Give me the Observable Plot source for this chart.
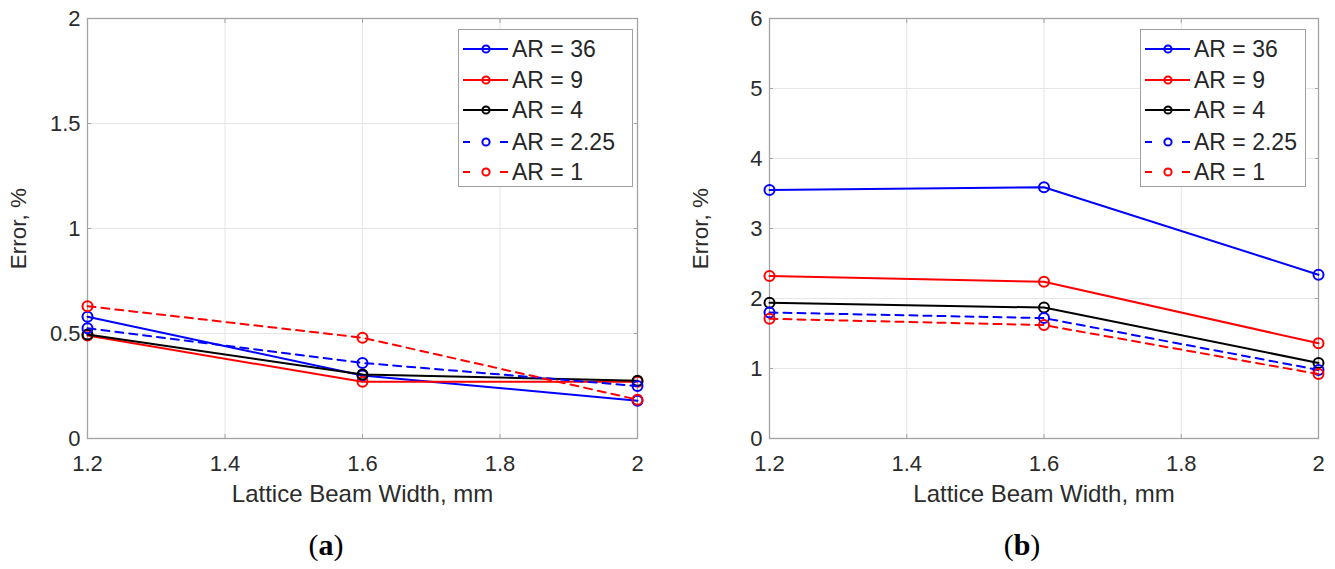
<!DOCTYPE html>
<html>
<head>
<meta charset="utf-8">
<script src="https://cdn.jsdelivr.net/npm/d3@7"></script>
<script src="https://cdn.jsdelivr.net/npm/@observablehq/plot@0.6"></script>
<style>
  body { margin: 0; background: #fff; }
  #root { position: relative; width: 1335px; height: 569px; overflow: hidden; font-family: "Liberation Sans", Arial, sans-serif; }
  .panel { position: absolute; top: 0; }
  .legend { position: absolute; background: #fff; border: 1px solid #a0a0a0; box-sizing: border-box; }
  .legend .row { position: absolute; left: 0; height: 30px; display: flex; align-items: center; }
  .legend .row span { font-size: 23px; color: #262626; margin-left: 1px; white-space: nowrap; }
  .caption { position: absolute; top: 528px; font-family: "Liberation Serif", "DejaVu Serif", serif; font-size: 30px; color: #000; transform: translateX(-50%); }
</style>
</head>
<body>
<div id="root"></div>
<script>
// ---- data ----
const beamWidths = [1.2, 1.6, 2];
const seriesLabels = ["AR = 36", "AR = 9", "AR = 4", "AR = 2.25", "AR = 1"];

// panel (a)
const errorA_AR36  = [0.58, 0.30, 0.18];
const errorA_AR9   = [0.49, 0.27, 0.27];
const errorA_AR4   = [0.495, 0.305, 0.275];
const errorA_AR225 = [0.525, 0.36, 0.25];
const errorA_AR1   = [0.63, 0.48, 0.185];

// panel (b)
const errorB_AR36  = [3.55, 3.59, 2.34];
const errorB_AR9   = [2.32, 2.24, 1.36];
const errorB_AR4   = [1.94, 1.87, 1.08];
const errorB_AR225 = [1.80, 1.72, 0.98];
const errorB_AR1   = [1.71, 1.62, 0.92];

const xTicks = [1.2, 1.4, 1.6, 1.8, 2];
const yTicksA = [0, 0.5, 1, 1.5, 2];
const yTicksB = [0, 1, 2, 3, 4, 5, 6];
const xLabel = "Lattice Beam Width, mm";
const yLabel = "Error, %";
const captions = ["a", "b"];

// ---- styles ----
const seriesColors = ["#0000ff", "#ff0000", "#000000", "#0000ff", "#ff0000"];
const seriesDash = [null, null, null, "8,6", "8,6"];

function toRows(seriesValues) {
  return seriesValues.map((vals, i) =>
    vals.map((v, j) => ({ x: beamWidths[j], y: v, series: seriesLabels[i] })));
}

function makeChart(seriesValues, yDomain, yTicks, width, marginLeft, marginRight) {
  const rows = toRows(seriesValues);
  const marks = [
    Plot.gridX(xTicks, { stroke: "#e6e6e6", strokeOpacity: 1 }),
    Plot.gridY(yTicks, { stroke: "#e6e6e6", strokeOpacity: 1 }),
    Plot.frame({ stroke: "#a3a3a3", strokeWidth: 1.3 }),
    // inward tick marks (box style)
    Plot.axisX(xTicks, { anchor: "bottom", tickSize: -4, tickFormat: () => "", label: null, stroke: "#a3a3a3" }),
    Plot.axisX(xTicks, { anchor: "top", tickSize: -4, tickFormat: () => "", label: null, stroke: "#a3a3a3" }),
    Plot.axisY(yTicks, { anchor: "left", tickSize: -4, tickFormat: () => "", label: null, stroke: "#a3a3a3" }),
    Plot.axisY(yTicks, { anchor: "right", tickSize: -4, tickFormat: () => "", label: null, stroke: "#a3a3a3" }),
    // tick labels
    Plot.axisX(xTicks, {
      anchor: "bottom", tickSize: 0, tickPadding: 17, tickFormat: d => String(d),
      label: null, fontSize: 22, fill: "#2b2b2b"
    }),
    Plot.axisY(yTicks, {
      anchor: "left", tickSize: 0, tickPadding: 7, tickFormat: d => String(d),
      label: null, fontSize: 22, fill: "#2b2b2b"
    }),
    // axis titles
    Plot.axisX([], {
      anchor: "bottom", tickSize: 0, label: xLabel, labelAnchor: "center", labelArrow: "none",
      labelOffset: 63, fontSize: 24, fill: "#2b2b2b"
    }),
    Plot.axisY([], {
      anchor: "left", tickSize: 0, label: yLabel, labelAnchor: "center", labelArrow: "none",
      labelOffset: 77, fontSize: 22.5, fill: "#2b2b2b"
    })
  ];
  rows.forEach((r, i) => {
    marks.push(Plot.line(r, { x: "x", y: "y", stroke: seriesColors[i], strokeWidth: 2, strokeDasharray: seriesDash[i] }));
    marks.push(Plot.dot(r, { x: "x", y: "y", r: 5, stroke: seriesColors[i], strokeWidth: 2, fill: "none" }));
  });
  return Plot.plot({
    width, height: 520,
    marginLeft, marginRight, marginTop: 18, marginBottom: 82,
    x: { domain: [1.2, 2], axis: null },
    y: { domain: yDomain, axis: null },
    style: { fontFamily: "'Liberation Sans', Arial, sans-serif", background: "transparent", overflow: "visible" },
    marks
  });
}

function makeLegend(left, top, width) {
  const lg = document.createElement("div");
  lg.className = "legend";
  lg.style.left = left + "px";
  lg.style.top = top + "px";
  lg.style.width = width + "px";
  lg.style.height = "158px";
  const rowCenters = [19, 50, 80, 112, 142];
  seriesLabels.forEach((lab, i) => {
    const row = document.createElement("div");
    row.className = "row";
    row.style.top = (rowCenters[i] - 15) + "px";
    const ns = "http://www.w3.org/2000/svg";
    const svg = document.createElementNS(ns, "svg");
    svg.setAttribute("width", 52);
    svg.setAttribute("height", 30);
    const c = seriesColors[i];
    const segs = seriesDash[i] ? [[4, 11], [41, 49]] : [[4, 49]];
    segs.forEach(([a, b]) => {
      const l = document.createElementNS(ns, "line");
      l.setAttribute("x1", a); l.setAttribute("x2", b);
      l.setAttribute("y1", 15); l.setAttribute("y2", 15);
      l.setAttribute("stroke", c); l.setAttribute("stroke-width", 2);
      svg.appendChild(l);
    });
    const ci = document.createElementNS(ns, "circle");
    ci.setAttribute("cx", 27); ci.setAttribute("cy", 15); ci.setAttribute("r", 3.6);
    ci.setAttribute("stroke", c); ci.setAttribute("stroke-width", 2); ci.setAttribute("fill", "none");
    svg.appendChild(ci);
    row.appendChild(svg);
    const sp = document.createElement("span");
    sp.textContent = lab;
    row.appendChild(sp);
    lg.appendChild(row);
  });
  return lg;
}

const root = document.getElementById("root");

const chartA = makeChart([errorA_AR36, errorA_AR9, errorA_AR4, errorA_AR225, errorA_AR1], [0, 2], yTicksA, 668, 87, 31);
const wrapA = document.createElement("div"); wrapA.className = "panel"; wrapA.style.left = "0px";
wrapA.appendChild(chartA); root.appendChild(wrapA);

const chartB = makeChart([errorB_AR36, errorB_AR9, errorB_AR4, errorB_AR225, errorB_AR1], [0, 6], yTicksB, 667, 101, 17);
const wrapB = document.createElement("div"); wrapB.className = "panel"; wrapB.style.left = "668px";
wrapB.appendChild(chartB); root.appendChild(wrapB);

root.appendChild(makeLegend(458, 29, 175));
root.appendChild(makeLegend(1140, 29, 166));

[[captions[0], 326], [captions[1], 1022]].forEach(([t, x]) => {
  const d = document.createElement("div");
  d.className = "caption";
  d.style.left = x + "px";
  d.innerHTML = "(<b>" + t + "</b>)";
  root.appendChild(d);
});
</script>
</body>
</html>
